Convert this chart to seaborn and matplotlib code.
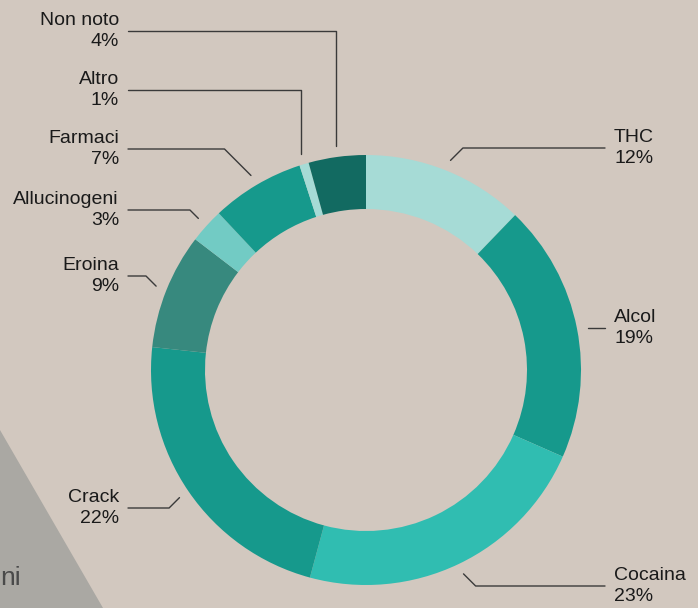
import numpy as np
import matplotlib
matplotlib.use("Agg")
import matplotlib.pyplot as plt
from matplotlib.patches import Polygon
import seaborn as sns

# %% data
categories = ["THC", "Alcol", "Cocaina", "Crack", "Eroina",
              "Allucinogeni", "Farmaci", "Altro", "Non noto"]
# wedge sizes as measured on the ring, and the printed (rounded) percentages
shares = [12.2, 19.4, 22.6, 22.5, 8.7, 2.6, 7.0, 0.7, 4.3]
pct_labels = [12, 19, 23, 22, 9, 3, 7, 1, 4]
colors = ["#a6dbd6", "#16998c", "#30bdb1", "#16998c", "#37897e",
          "#72cbc4", "#16998c", "#a6dbd6", "#126a61"]

# %% layout (pixel space, y down)
W, H = 698, 608
cx, cy = 366, 370
r_out, ring = 215, 54
r_anchor = 226
bg = "#d2c8bf"

# text y (centre of the two lines) and leader angle at the donut
label_y = {"THC": 148, "Alcol": 328, "Cocaina": 586, "Crack": 508, "Eroina": 276,
           "Allucinogeni": 210, "Farmaci": 149, "Altro": 90, "Non noto": 31}
leader_ang = {"THC": 45, "Alcol": None, "Cocaina": -45, "Crack": 45, "Eroina": 135,
              "Allucinogeni": 135, "Farmaci": 135, "Altro": 90, "Non noto": 90}

sns.set_style("white")
plt.rcParams["font.family"] = ["Liberation Sans", "DejaVu Sans"]

fig = plt.figure(figsize=(W / 100, H / 100), dpi=100)
fig.patch.set_facecolor(bg)
ax = fig.add_axes([0, 0, 1, 1])
ax.set_facecolor(bg)

# grey triangle in the lower-left corner
ax.add_patch(Polygon([(0, H - 430), (103, 0), (0, 0)], closed=True,
                     facecolor="#aaa8a3", edgecolor="none", zorder=0))
ax.text(0, H - 578, "ni", ha="left", va="center", fontsize=19, color="#4a4a4a")

ax.pie(shares, colors=colors, startangle=90, counterclock=False,
       center=(cx, H - cy), radius=r_out,
       wedgeprops=dict(width=ring, linewidth=0))

cum = np.cumsum(shares)
for name, v, p, c in zip(categories, shares, pct_labels, cum):
    theta = np.deg2rad(360 * (c - v / 2) / 100)
    ax_x = cx + r_anchor * np.sin(theta)
    ax_y = (H - cy) + r_anchor * np.cos(theta)
    right = np.sin(theta) > 0
    ty = H - label_y[name]
    if right:
        ax.text(614, ty, f"{name}\n{p}%", ha="left", va="center",
                multialignment="left", fontsize=14, color="#1a1a1a", linespacing=1.3)
        start = (605, ty)
    else:
        ax.text(119, ty, f"{name}\n{p}%", ha="right", va="center",
                multialignment="right", fontsize=14, color="#1a1a1a", linespacing=1.3)
        start = (128, ty)
    ang = leader_ang[name]
    if ang is None:
        ax.plot([start[0], ax_x], [ty, ty], color="#3a3a3a", lw=1)
    else:
        ax.annotate("", xy=(ax_x, ax_y), xytext=start,
                    arrowprops=dict(arrowstyle="-", color="#3a3a3a", lw=1,
                                    shrinkA=0, shrinkB=0,
                                    connectionstyle=f"angle,angleA=0,angleB={ang},rad=0"))

ax.set_xlim(0, W)
ax.set_ylim(0, H)
ax.set_aspect("equal")
ax.axis("off")

fig.savefig("out.png", dpi=100, facecolor=bg)
